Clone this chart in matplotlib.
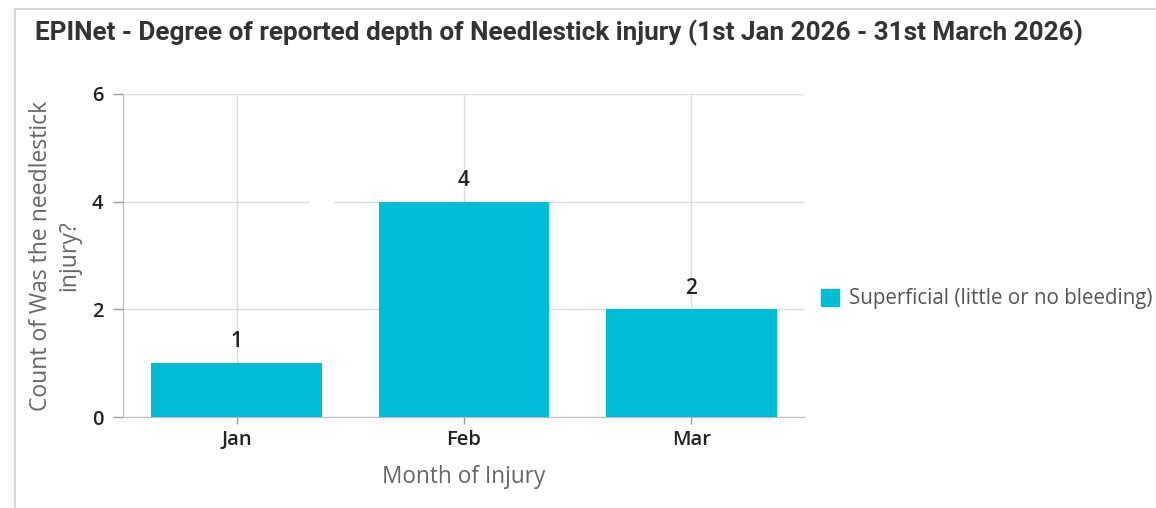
import matplotlib
matplotlib.use("Agg")
import matplotlib.pyplot as plt
from matplotlib.patches import Patch
from matplotlib.lines import Line2D

months = ["Jan", "Feb", "Mar"]
counts = [1, 4, 2]
series_name = "Superficial (little or no bleeding)"
y_ticks = [0, 2, 4, 6]

title = "EPINet - Degree of reported depth of Needlestick injury (1st Jan 2026 - 31st March 2026)"
x_label = "Month of Injury"
y_label = "Count of Was the needlestick\ninjury?"

bar_color = "#00BCD4"
grid_color = "#dcdcdc"
label_gray = "#666666"

plt.rcParams["font.family"] = ["Open Sans", "DejaVu Sans"]

fig = plt.figure(figsize=(11.56, 5.08), dpi=100)
ax = fig.add_axes([0.1064, 0.179, 0.590, 0.636])

x = list(range(len(months)))
bars = ax.bar(x, counts, width=0.75, color=bar_color, zorder=3)

for xi, v in zip(x, counts):
    ax.text(xi, v + 0.2, str(v), ha="center", va="bottom", fontsize=15,
            fontweight="semibold", color="#222222", zorder=4)

ax.set_xlim(-0.5, len(months) - 0.5)
ax.set_ylim(0, 6)
ax.set_yticks(y_ticks)
ax.set_xticks(x)
ax.set_xticklabels(months)
ax.tick_params(axis="both", labelsize=14.5, colors="#999999", labelcolor="#222222",
               length=7, width=1)
ax.tick_params(axis="y", pad=7)
ax.tick_params(axis="x", pad=4, length=5)
for lbl in ax.get_xticklabels() + ax.get_yticklabels():
    lbl.set_fontweight("semibold")

ax.grid(True, color=grid_color, linewidth=1, zorder=0)
for side in ["top", "right"]:
    ax.spines[side].set_visible(False)
ax.spines["left"].set_color("#bbbbbb")
ax.spines["bottom"].set_color("#bbbbbb")

ax.set_xlabel(x_label, fontsize=16.3, color=label_gray, labelpad=11)
ax.set_ylabel(y_label, fontsize=16.5, color=label_gray, labelpad=8, linespacing=1.2)

# small break in the upper gridline
ax.plot([0.33, 0.42], [4, 4], color="white", linewidth=3, zorder=2)

fig.text(0.030, 0.935, title, fontsize=18.8, fontweight="bold", color="#333333",
         family=["Roboto", "DejaVu Sans"], va="center", ha="left")

handles = [Patch(facecolor=bar_color, edgecolor=bar_color, label=series_name)]
fig.legend(handles=handles, loc="center left", bbox_to_anchor=(0.694, 0.412),
           frameon=False, fontsize=14.8, handlelength=0.9, handleheight=0.9,
           handletextpad=0.45, labelcolor="#555555")

# card outline
fig.add_artist(Line2D([0.013, 1.0], [0.982, 0.982], transform=fig.transFigure,
                      color="#d8d8d8", linewidth=1.5))
fig.add_artist(Line2D([0.013, 0.013], [0.0, 0.982], transform=fig.transFigure,
                      color="#d8d8d8", linewidth=1.5))

fig.savefig("out.png", dpi=100)
